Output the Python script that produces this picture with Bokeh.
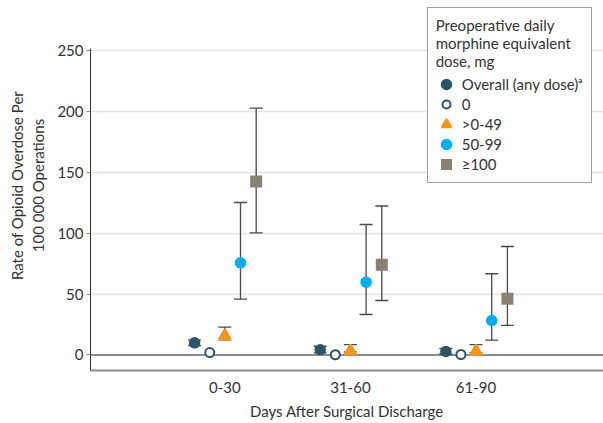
from bokeh.plotting import figure
from bokeh.models import (ColumnDataSource, Range1d, FixedTicker, Whisker, TeeHead,
                          Span, Legend, LegendItem)
from bokeh.transform import dodge
from bokeh.embed import file_html
from bokeh.resources import INLINE

# ---------------- data ----------------
categories = ["0-30", "31-60", "61-90"]

overall = [10.0, 4.3, 2.9]
overall_lower = [7.8, 1.8, 0.8]
overall_upper = [12.5, 7.2, 5.5]

zero_dose = [2.0, 0.2, 0.4]

low_dose = [15.8, 3.2, 3.0]
low_lower = [12.5, 2.5, 2.0]
low_upper = [22.9, 8.6, 8.6]

mid_dose = [75.8, 59.9, 28.4]
mid_lower = [45.9, 33.3, 12.3]
mid_upper = [125.4, 107.3, 66.8]

high_dose = [142.7, 74.2, 46.2]
high_lower = [100.5, 44.8, 24.3]
high_upper = [203.0, 122.5, 89.2]

y_ticks = [0, 50, 100, 150, 200, 250]
series_labels = ["Overall (any dose)\u1d43", "0", ">0-49", "50-99", "\u2265100"]
legend_title = "Preoperative daily\nmorphine equivalent\ndose, mg"

# ---------------- styling ----------------
FONT = "Lato"
TEXT = "#333333"
TEAL = "#2c5565"
ORANGE = "#f7941d"
BLUE = "#00aeef"
TAUPE = "#8b8172"
ERR = "#4a4a4a"

x_pos = list(range(1, len(categories) + 1))

def src(values, lower=None, upper=None):
    d = dict(x=x_pos, value=values)
    if lower is not None:
        d["lower"] = lower
        d["upper"] = upper
    return ColumnDataSource(d)

s_overall = src(overall, overall_lower, overall_upper)
s_zero = src(zero_dose)
s_low = src(low_dose, low_lower, low_upper)
s_mid = src(mid_dose, mid_lower, mid_upper)
s_high = src(high_dose, high_lower, high_upper)

p = figure(width=603, height=423,
           x_range=Range1d(-0.069, 4.015), y_range=Range1d(-12.75, 291.5),
           output_backend="svg", toolbar_location=None,
           min_border_left=90, min_border_right=0, min_border_top=0, min_border_bottom=53)
p.outline_line_color = None
p.background_fill_color = "white"

# grid
p.xgrid.grid_line_color = None
p.ygrid.grid_line_color = "#e3e3e3"
p.ygrid.grid_line_width = 1.5

# y axis
p.yaxis.ticker = FixedTicker(ticks=y_ticks)
p.yaxis.bounds = (-12.75, 252)
p.yaxis.axis_line_color = "#333333"
p.yaxis.axis_line_width = 1
p.yaxis.major_tick_out = 4
p.yaxis.major_tick_in = 0
p.yaxis.major_tick_line_color = "#888888"
p.yaxis.minor_tick_line_color = None
p.yaxis.major_label_text_font = FONT
p.yaxis.major_label_text_font_size = "15px"
p.yaxis.major_label_text_color = TEXT
p.yaxis.major_label_standoff = 3
p.yaxis.axis_label = "Rate of Opioid Overdose Per\n100 000 Operations"
p.yaxis.axis_label_text_font = FONT
p.yaxis.axis_label_text_font_size = "15px"
p.yaxis.axis_label_text_font_style = "normal"
p.yaxis.axis_label_text_color = TEXT
p.yaxis.axis_label_standoff = 7

# x axis
p.xaxis.ticker = FixedTicker(ticks=x_pos)
p.xaxis.major_label_overrides = {x: c for x, c in zip(x_pos, categories)}
p.xaxis.axis_line_color = "#8c8c8c"
p.xaxis.axis_line_width = 2
p.xaxis.major_tick_out = 0
p.xaxis.major_tick_in = 0
p.xaxis.major_tick_line_color = None
p.xaxis.minor_tick_out = 0
p.xaxis.minor_tick_in = 0
p.xaxis.minor_tick_line_color = None
p.xaxis.major_label_text_font = FONT
p.xaxis.major_label_text_font_size = "15px"
p.xaxis.major_label_text_color = TEXT
p.xaxis.major_label_standoff = 11
p.xaxis.axis_label = "Days After Surgical Discharge"
p.xaxis.axis_label_text_font = FONT
p.xaxis.axis_label_text_font_size = "15px"
p.xaxis.axis_label_text_font_style = "normal"
p.xaxis.axis_label_text_color = TEXT
p.xaxis.axis_label_standoff = 6

# zero reference line
p.add_layout(Span(location=0, dimension="width", line_color="#8c8c8c",
                  line_width=2, level="underlay"))

offsets = [-0.24, -0.12, 0.0, 0.125, 0.25]

def whisk(source, off):
    w = Whisker(source=source, base=dodge("x", off, range=p.x_range),
                upper="upper", lower="lower", dimension="height",
                line_color=ERR, line_width=1.3,
                upper_head=TeeHead(size=13, line_color=ERR, line_width=1.3),
                lower_head=TeeHead(size=13, line_color=ERR, line_width=1.3))
    p.add_layout(w)

whisk(s_overall, offsets[0])
whisk(s_low, offsets[2])
whisk(s_mid, offsets[3])
whisk(s_high, offsets[4])

r_overall = p.scatter(x=dodge("x", offsets[0], range=p.x_range), y="value", source=s_overall,
                      marker="circle", size=8, fill_color=TEAL, line_color=TEAL, line_width=3.5)
r_zero = p.scatter(x=dodge("x", offsets[1], range=p.x_range), y="value", source=s_zero,
                   marker="circle", size=9, fill_color="white", line_color=TEAL, line_width=2)
r_low = p.scatter(x=dodge("x", offsets[2], range=p.x_range), y="value", source=s_low,
                  marker="triangle", size=10, fill_color=ORANGE, line_color=ORANGE,
                  line_width=3, line_join="round")
r_mid = p.scatter(x=dodge("x", offsets[3], range=p.x_range), y="value", source=s_mid,
                  marker="circle", size=8, fill_color=BLUE, line_color=BLUE, line_width=3.5)
r_high = p.scatter(x=dodge("x", offsets[4], range=p.x_range), y="value", source=s_high,
                   marker="square", size=9, fill_color=TAUPE, line_color=TAUPE,
                   line_width=3, line_join="miter")

renderers = [r_overall, r_zero, r_low, r_mid, r_high]
legend = Legend(items=[LegendItem(label=l, renderers=[r]) for l, r in zip(series_labels, renderers)],
                location=(336.7, 187.0), title=legend_title,
                title_text_font=FONT, title_text_font_size="15px", title_text_font_style="normal",
                title_text_color=TEXT, title_standoff=4, title_text_line_height=1.27,
                label_text_font=FONT, label_text_font_size="15px", label_text_color=TEXT,
                glyph_width=20, glyph_height=20, label_height=20, spacing=0,
                padding=8, margin=0, label_standoff=6,
                border_line_color="#444444", border_line_width=1,
                background_fill_color="white", background_fill_alpha=1)
p.add_layout(legend)

open("out.html", "w").write(file_html(p, INLINE))
